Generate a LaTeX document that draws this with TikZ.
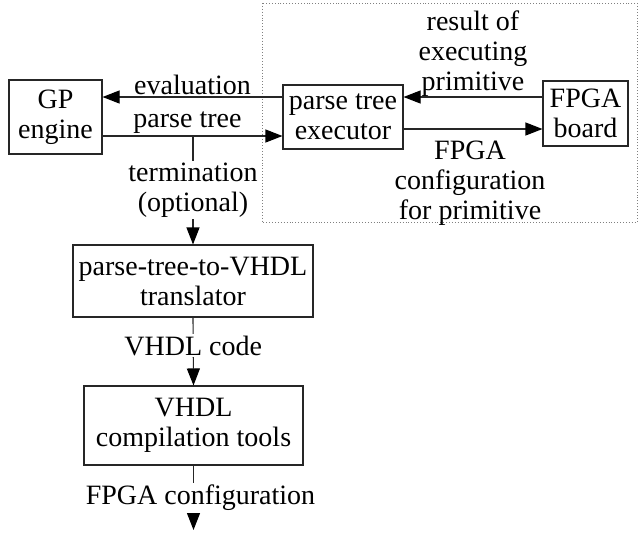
\documentclass[tikz,border=0pt]{standalone}
\usepackage{fontspec}
\setmainfont{Liberation Serif}
\usetikzlibrary{arrows.meta, positioning}

\begin{document}
\begin{tikzpicture}[
    x=1pt, y=-1pt,
    block/.style={
      draw=black!85,
      line width=1.1pt,
      align=center,
      inner sep=0pt,
      font=\fontsize{28}{30}\selectfont
    },
    flow/.style={
      draw=black!85,
      line width=1.1pt,
      -{Triangle[length=17pt, width=13pt, color=black]}
    },
    lbl/.style={
      align=center,
      inner sep=2pt,
      font=\fontsize{28}{30}\selectfont
    }
  ]
    \useasboundingbox (0,0) rectangle (639,539);
    % simulation part
    \draw[gray, dotted, line width=0.9pt] (262,3) rectangle (637,222);
    \node[block, minimum width=93pt, minimum height=74pt] (gp) at (55.5,117) {GP\\engine};
    \node[block, minimum width=120pt, minimum height=64pt] (exec) at (343,117) {parse tree\\executor};
    \node[block, minimum width=85pt, minimum height=65pt] (board) at (585.5,113.5) {FPGA\\board};
    \node[block, minimum width=240pt, minimum height=72pt] (trans) at (193,281) {parse-tree-to-VHDL\\translator};
    \node[block, minimum width=219pt, minimum height=79pt] (vhdl) at (193.5,425.5) {VHDL\\compilation tools};
    \coordinate (split) at ([yshift=-19pt]gp.east -| trans.north);
    \coordinate (out) at (vhdl.south |- 0,530);

    \draw[flow] ([yshift=20pt]exec.west) -- ([yshift=20pt]exec.west -| gp.east)
      node[lbl, above, midway] {evaluation};
    \draw[flow] ([yshift=-19pt]gp.east) -- ([yshift=-19pt]gp.east -| exec.west)
      node[lbl, above, midway, xshift=-5pt] {parse tree};
    \draw[flow] ([yshift=16.5pt]board.west) -- ([yshift=16.5pt]board.west -| exec.east)
      node[lbl, above, midway, yshift=-2pt] {result of\\executing\\primitive};
    \draw[flow] ([yshift=-12pt]exec.east) -- ([yshift=-12pt]exec.east -| board.west)
      node[lbl, below, midway, yshift=-9pt, xshift=-3pt] {FPGA\\configuration\\for primitive};
    \draw[flow] (split) -- (trans.north)
      node[lbl, midway, fill=white] {termination\\(optional)};
    \draw[flow] (trans.south) -- (vhdl.north)
      node[lbl, midway, fill=white, yshift=6pt] {VHDL code};
    \draw[flow] (vhdl.south) -- (out)
      node[lbl, midway, fill=white, xshift=7pt] {FPGA configuration};
  \end{tikzpicture}
\end{document}
